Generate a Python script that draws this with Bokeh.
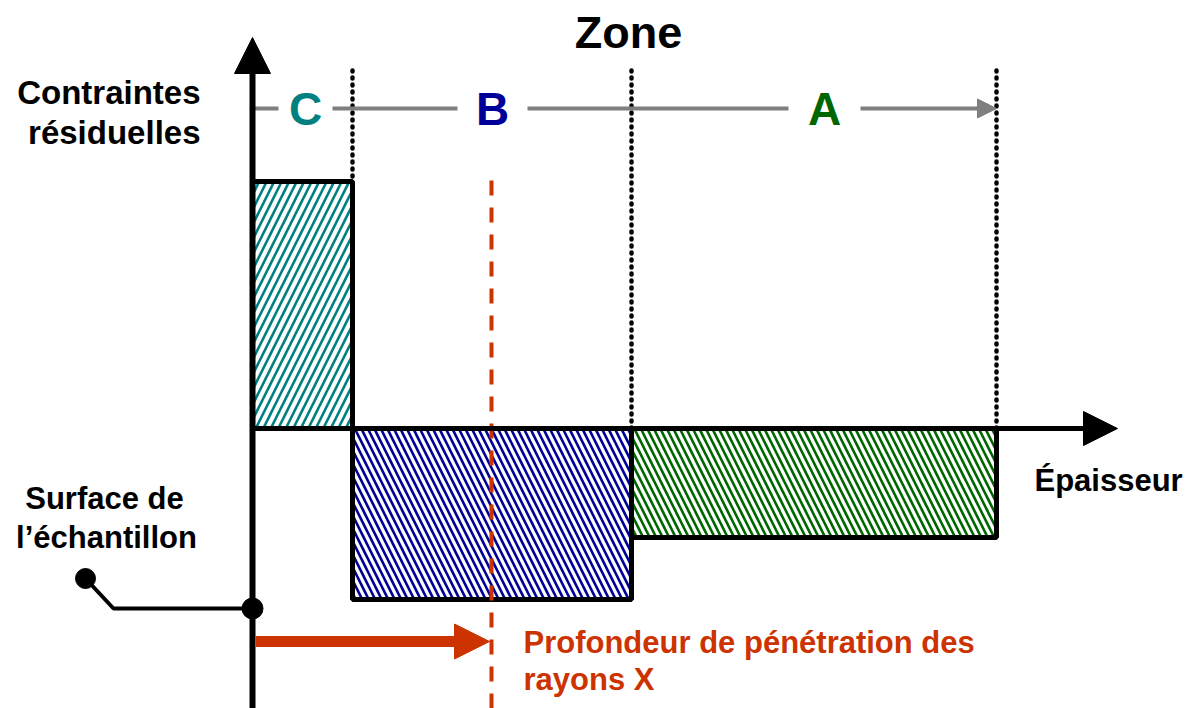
from bokeh.plotting import figure
from bokeh.models import Range1d, Arrow, NormalHead, ColumnDataSource
from bokeh.core.properties import value
from bokeh.embed import file_html
from bokeh.resources import INLINE

# ---- data (arbitrary units: x = thickness, y = residual stress) ----
zone_labels = ["C", "B", "A"]
zone_edges = [0, 100, 379, 744]
zone_stress = [247, -171, -109]
zone_colors = ["#008080", "#000099", "#006600"]
zone_hatch = ["/", "\\", "\\"]
penetration_depth = 239

FONT = value("Liberation Sans")
W, H = 1192, 708
X0, Y0 = 252, 428  # origin of diagram in frame pixels (left, from top)

p = figure(width=W, height=H, output_backend="svg", toolbar_location=None,
           x_range=Range1d(-X0, W - X0), y_range=Range1d(Y0 - H, Y0),
           x_axis_location=None, y_axis_location=None, min_border=0)
p.outline_line_color = None
p.xgrid.visible = False
p.ygrid.visible = False
p.background_fill_color = "white"

def sy(y_screen):
    """screen pixel row -> data y"""
    return 428 - y_screen

# ---- hatched zone rectangles ----
src = ColumnDataSource(dict(
    left=zone_edges[:-1], right=zone_edges[1:],
    top=[max(0, s) for s in zone_stress], bottom=[min(0, s) for s in zone_stress],
    color=zone_colors, hatch=zone_hatch, hscale=[15, 13, 13]))
p.quad(left="left", right="right", top="top", bottom="bottom", source=src,
       fill_color="white", hatch_pattern="hatch", hatch_color="color",
       hatch_scale="hscale", hatch_weight=2.6, line_color="black", line_width=5)

# ---- dotted zone boundaries ----
for xe in zone_edges[1:]:
    p.line(x=[xe, xe], y=[0, sy(64)], line_color="black", line_width=4.5,
           line_dash="1 6", line_cap="round")

# ---- grey zone arrow with gaps for labels ----
label_x = [53, 240, 572]
gap_half = [27, 35, 36]
grey_y = sy(108)
xs0, xs1 = [], []
start = 0
for lx, g in zip(label_x, gap_half):
    xs0.append(start); xs1.append(lx - g)
    start = lx + g
xs0.append(start); xs1.append(zone_edges[-1] - 14)
p.segment(x0=xs0, y0=grey_y, x1=xs1, y1=grey_y, line_color="#7f7f7f", line_width=4)
p.add_layout(Arrow(end=NormalHead(size=19, fill_color="#7f7f7f", line_color="#7f7f7f"),
                   x_start=zone_edges[-1] - 20, y_start=grey_y, x_end=zone_edges[-1], y_end=grey_y,
                   line_color="#7f7f7f", line_width=4))
p.text(x=label_x, y=[sy(108)] * 3, text=zone_labels, text_color=zone_colors,
       text_font=FONT, text_font_style="bold", text_font_size="46px",
       text_align="center", text_baseline="middle")

# ---- axes with arrowheads ----
p.add_layout(Arrow(end=NormalHead(size=36, fill_color="black", line_color="black"),
                   x_start=0, y_start=sy(715), x_end=0, y_end=sy(37),
                   line_color="black", line_width=6))
p.add_layout(Arrow(end=NormalHead(size=34, fill_color="black", line_color="black"),
                   x_start=0, y_start=0, x_end=1117 - 252, y_end=0,
                   line_color="black", line_width=5))

# ---- X-ray penetration depth ----
p.line(x=[penetration_depth, penetration_depth], y=[sy(180), sy(712)],
       line_color="#CC3300", line_width=4, line_dash="15 12")
p.add_layout(Arrow(end=NormalHead(size=35, fill_color="#CC3300", line_color="#CC3300"),
                   x_start=3, y_start=sy(641), x_end=penetration_depth - 2, y_end=sy(641),
                   line_color="#CC3300", line_width=11))

# ---- sample surface marker ----
p.line(x=[85 - 252, 113 - 252, 0], y=[sy(578), sy(608), sy(608)], line_color="black", line_width=4)
p.scatter(x=[85 - 252, 0], y=[sy(578), sy(608)], size=[20, 21], marker="circle",
          fill_color="black", line_color="black")

# ---- texts (y = visual centre of the line) ----
def txt(x, y, s, size, color="black", align="left"):
    p.text(x=[x - 252], y=[sy(y)], text=[s], text_color=color, text_font=FONT,
           text_font_style="bold", text_font_size=size, text_align=align,
           text_baseline="middle")

txt(628, 32, "Zone", "45px", align="center")
txt(200, 92, "Contraintes", "33px", align="right")
txt(200, 132, "résiduelles", "33px", align="right")
txt(1034, 480, "Épaisseur", "31px")
txt(104, 498, "Surface de", "31px", align="center")
txt(106, 537, "l\u2019échantillon", "31px", align="center")
txt(523, 642, "Profondeur de pénétration des", "31px", color="#CC3300")
txt(523, 679, "rayons X", "31px", color="#CC3300")

open("out.html", "w").write(file_html(p, INLINE))
